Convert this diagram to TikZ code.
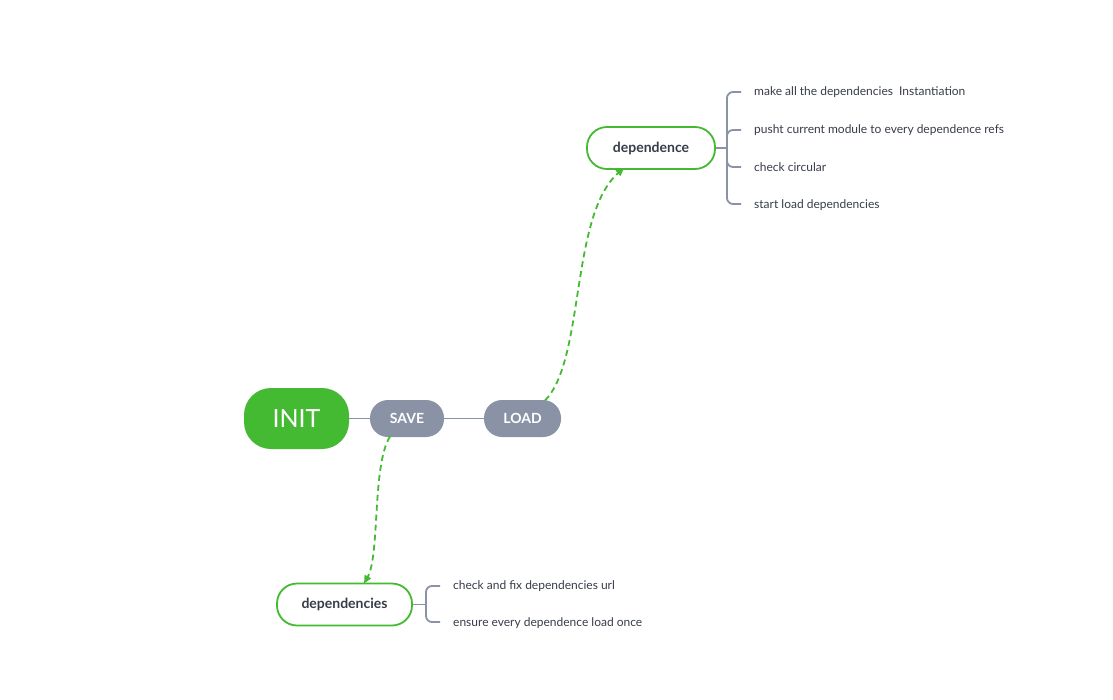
\documentclass[tikz,border=0pt]{standalone}
\usepackage{fontspec}
\setmainfont{Lato}
\usetikzlibrary{arrows.meta}
\definecolor{mgreen}{RGB}{68,185,50}
\definecolor{mgray}{RGB}{138,147,165}
\definecolor{mtext}{RGB}{55,60,72}
\tikzset{
  pillgray/.style={fill=mgray, text=white, font=\fontsize{14}{14}\selectfont\bfseries, minimum height=37pt, rounded corners=18pt, inner sep=0pt},
  pillwhite/.style={draw=mgreen, line width=1.8pt, fill=white, text=mtext, font=\fontsize{14}{14}\selectfont\bfseries, minimum height=42pt, rounded corners=20pt, inner sep=0pt},
  childtext/.style={anchor=west, text=mtext, font=\fontsize{12}{12}\selectfont, inner sep=0pt},
  link/.style={draw=mgray, line width=1.8pt},
  brack/.style={draw=mgray, line width=1.8pt, rounded corners=6pt},
  dashlink/.style={draw=mgreen, line width=1.8pt, dash pattern=on 6pt off 4pt, -{Triangle[length=8pt,width=7pt]}}
}
\begin{document}
\begin{tikzpicture}[x=1pt,y=-1pt]
\useasboundingbox (0,0) rectangle (1113,699);
% main row
\node[fill=mgreen, text=white, font=\fontsize{25}{25}\selectfont, minimum width=105pt, minimum height=61pt, rounded corners=27pt, inner sep=0pt] (init) at (296.5,418.5) {INIT};
\node[pillgray, minimum width=74pt] (save) at (407,418.5) {SAVE};
\node[pillgray, minimum width=77pt] (load) at (522.5,418.5) {LOAD};
\draw[link] (init.east) -- (save.west);
\draw[link] (save.east) -- (load.west);
% dependence
\node[pillwhite, minimum width=128pt] (dep) at (651,148) {dependence};
\node[pillwhite, minimum width=135pt] (deps) at (344.5,604.5) {dependencies};
% dashed links
\coordinate (loadtop) at (545,400.5);
\coordinate (deptarget) at (624,168);
\draw[dashlink] (loadtop) .. controls (585,360) and (570,215) .. (deptarget);
\coordinate (savebot) at (390,436.5);
\coordinate (depstarget) at (364,583.5);
\draw[dashlink] (savebot) .. controls (372,465) and (380,555) .. (depstarget);
% dependence children
\node[childtext] (c1) at (754,92.5) {make all the dependencies\ \ Instantiation};
\node[childtext] (c2) at (754,130.5) {pusht current module to every dependence refs};
\node[childtext] (c3) at (754,167.5) {check circular};
\node[childtext] (c4) at (754,205) {start load dependencies};
\coordinate (bx) at (727,148);
\draw[link] (dep.east) -- (bx);
\draw[brack] (741,92) -- (727,92) -- (727,204) -- (741,204);
\draw[brack] (727,140) -- (727,130) -- (741,130);
\draw[brack] (727,157) -- (727,167) -- (741,167);
% dependencies children
\node[childtext] (d1) at (453,586.5) {check and fix dependencies url};
\node[childtext] (d2) at (453,623) {ensure every dependence load once};
\coordinate (bx2) at (426,604.5);
\draw[link] (deps.east) -- (bx2);
\draw[brack] (440,586) -- (426,586) -- (426,622) -- (440,622);
\end{tikzpicture}
\end{document}
